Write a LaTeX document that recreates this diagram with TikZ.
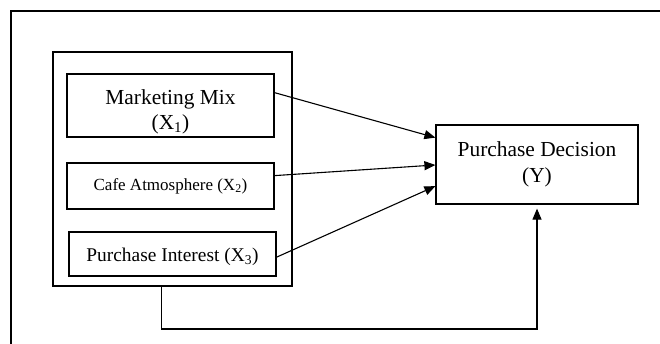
\documentclass[tikz,border=0pt]{standalone}
\usepackage{fontspec}
\setmainfont{Liberation Serif}
\usetikzlibrary{arrows.meta,calc}
\begin{document}
\begin{tikzpicture}[x=1pt,y=-1pt,
  box/.style={draw,line width=1.2pt,inner sep=0pt,align=center},
  conn/.style={line width=1.1pt,-{Triangle[length=11pt,width=9pt]}},
  big/.style={font=\fontsize{21.4}{26}\selectfont}]
\useasboundingbox (0,0) rectangle (660,344);
\fill[white] (0,0) rectangle (660,344);
% outer frame
\draw[line width=1.3pt] (11,344) -- (11,11) -- (660,11);
% group box
\node[box,minimum width=239pt,minimum height=234pt] (g) at (172.5,169) {};
\node[box,big,minimum width=207pt,minimum height=63pt] (m) at (170.5,105.5) {\rule{0pt}{27pt}Marketing Mix\\[-1pt](X\textsubscript{1})};
\node[box,font=\fontsize{17}{20}\selectfont,minimum width=207pt,minimum height=46pt] (c) at (170.5,186) {Cafe Atmosphere (X\textsubscript{2})};
\node[box,font=\fontsize{19.4}{23}\selectfont,minimum width=207pt,minimum height=44pt] (p) at (172.5,254) {\rule{0pt}{19pt}Purchase Interest (X\textsubscript{3})};
\node[box,big,minimum width=202pt,minimum height=79pt] (y) at (537,164.5) {Purchase Decision\\(Y)};
% arrows
\draw[conn] ($(m.north east)!0.3!(m.south east)$) -- ($(y.north west)!0.165!(y.south west)$);
\draw[conn] ($(c.north east)!0.28!(c.south east)$) -- ($(y.north west)!0.506!(y.south west)$);
\draw[conn] ($(p.north east)!0.57!(p.south east)$) -- ($(y.north west)!0.77!(y.south west)$);
\coordinate (gs) at ($(g.south west)!0.456!(g.south east)$);
\coordinate (low) at (0,329);
\draw[conn,shorten >=4pt] (gs) -- (gs |- low) -| (y.south);
\end{tikzpicture}
\end{document}
